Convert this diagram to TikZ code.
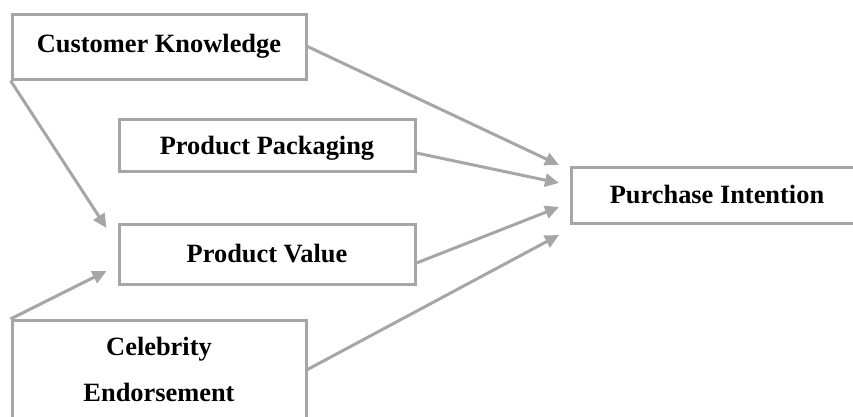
\documentclass[tikz,border=0pt]{standalone}
\usepackage{fontspec}
\setmainfont{Liberation Serif}
\usetikzlibrary{arrows.meta,calc}
\definecolor{linegray}{HTML}{A6A6A6}
\tikzset{
  box/.style={draw=linegray, line width=3pt, fill=white, inner xsep=0pt, inner ysep=0pt,
    font=\fontsize{26.4}{46}\selectfont\bfseries, align=center},
  link/.style={draw=linegray, line width=3pt,
    -{Triangle[length=14pt,width=13pt]}}
}
\begin{document}
\begin{tikzpicture}[x=1pt,y=-1pt]
  \useasboundingbox (0,0) rectangle (853,416);

  % factor boxes (text height/depth set the box edges around the baseline)
  \node[box, minimum width=294pt, text height=38pt, text depth=27pt, anchor=base]
    (ck) at (159,52) {Customer Knowledge};
  \node[box, minimum width=296pt, text height=35pt, text depth=17pt, anchor=base]
    (pp) at (267,154) {Product Packaging};
  \node[box, minimum width=296pt, text height=38pt, text depth=22pt, anchor=base]
    (pv) at (267,262) {Product Value};
  % two-line box: height is measured from the last line's baseline
  \node[box, minimum width=294pt, text height=81pt, text depth=45pt, anchor=north]
    (ce) at (159,319) {Celebrity\\Endorsement};
  \node[box, minimum width=291pt, text height=36pt, text depth=20pt, anchor=base west]
    (pi) at (570,203) {Purchase Intention};

  % paths into Product Value
  \draw[link] (ck.south west) -- ($(pv.west)+(-11,-26)$);
  \draw[link] (ce.north west) -- ($(pv.west)+(-11,17)$);

  % paths into Purchase Intention
  \draw[link] (ck.east) -- ($(pi.west)+(-11,-30)$);
  \draw[link] ($(pp.east)+(0,8)$) -- ($(pi.west)+(-11,-12)$);
  \draw[link] ($(pv.east)+(0,9)$) -- ($(pi.west)+(-11,12)$);
  \draw[link] ($(ce.east)+(0,-14)$) -- ($(pi.west)+(-11,40)$);
\end{tikzpicture}
\end{document}
